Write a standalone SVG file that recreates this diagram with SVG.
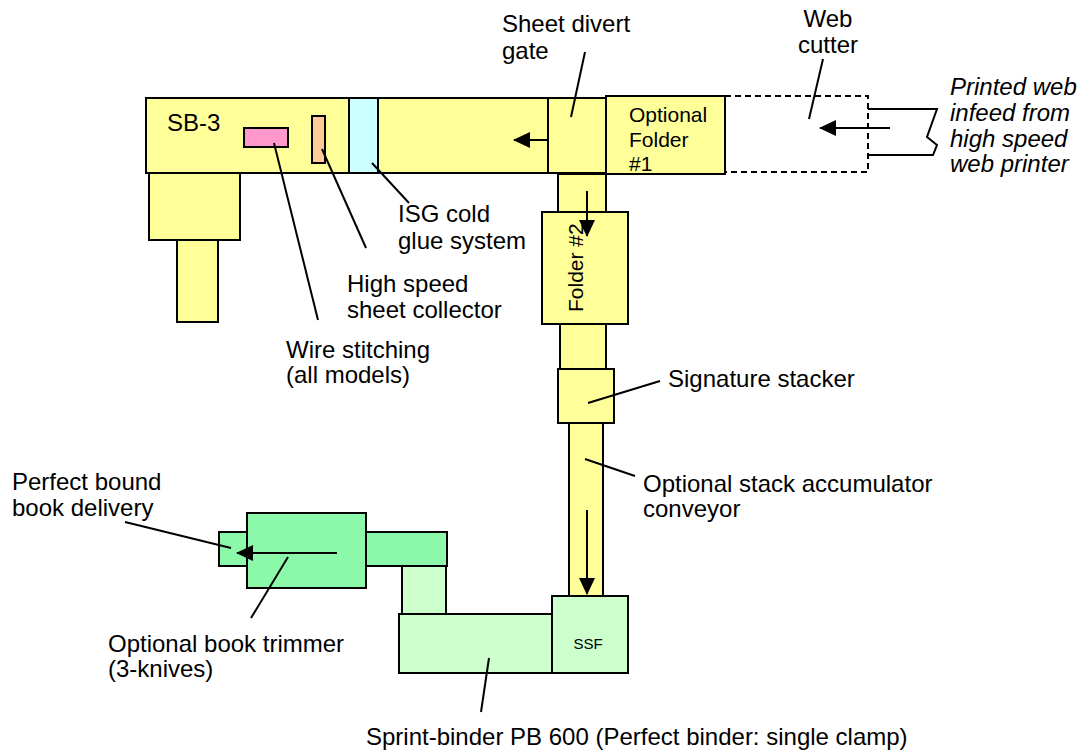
<svg xmlns="http://www.w3.org/2000/svg" width="1090" height="751" viewBox="0 0 1090 751">
<style>
.box{stroke:#000;stroke-width:2}
.y{fill:#FFFF99}
.c{fill:#CCFFFF}
.pk{fill:#FF99CC}
.or{fill:#FFCC99}
.g{fill:#8CF9AA}
.lg{fill:#CCFFCC}
.ld{stroke:#000;stroke-width:2;fill:none}
.ar{stroke:#000;stroke-width:2;fill:none;marker-end:url(#ah)}
text{font-family:"Liberation Sans",Arial,sans-serif;font-size:24px;fill:#000}
.it{font-style:italic}
.sm{font-size:21px}
</style>
<defs>
<marker id="ah" markerUnits="userSpaceOnUse" markerWidth="17" markerHeight="16" refX="16" refY="8" orient="auto">
<path d="M0,0 L17,8 L0,16 z" fill="#000"/>
</marker>
</defs>
<rect width="1090" height="751" fill="#fff"/>
<g id="sb3">
<rect class="box y" x="149" y="173" width="91" height="67"/>
<rect class="box y" x="177" y="240" width="41" height="82"/>
<rect class="box y" x="146" y="98" width="460" height="75"/>
<rect class="box pk" x="244" y="128" width="44" height="19"/>
<rect class="box or" x="312" y="116" width="13" height="47"/>
<text x="167" y="131">SB-3</text>
</g>
<g id="isg">
<rect class="box c" x="349" y="98" width="29" height="75"/>
</g>
<g id="gate">
<rect class="box y" x="548" y="98" width="58" height="75"/>
</g>
<g id="folder1">
<rect class="box y" x="606" y="96" width="119" height="78"/>
<text class="sm" x="629" y="122">Optional</text>
<text class="sm" x="629" y="147">Folder</text>
<text class="sm" x="629" y="171">#1</text>
</g>
<g id="webcutter">
<rect x="725" y="96" width="143" height="76" fill="none" stroke="#000" stroke-width="2" stroke-dasharray="6,4"/>
</g>
<g id="infeed">
<polyline class="ld" points="868,109 937,109 927,137 937,145 933,155 868,155"/>
</g>
<g id="folder2">
<rect class="box y" x="558" y="174" width="48" height="38"/>
<rect class="box y" x="560" y="324" width="46" height="45"/>
<rect class="box y" x="542" y="212" width="86" height="112"/>
<text class="sm" transform="translate(583,312) rotate(-90)">Folder #2</text>
</g>
<g id="stacker">
<rect class="box y" x="558" y="369" width="56" height="54"/>
</g>
<g id="accumulator">
<rect class="box y" x="569" y="423" width="34" height="173"/>
</g>
<g id="ssf">
<rect class="box lg" x="552" y="596" width="76" height="77"/>
<text x="588" y="649" text-anchor="middle" style="font-size:15px">SSF</text>
</g>
<g id="binder">
<rect class="box lg" x="402" y="566" width="44" height="48"/>
<rect class="box lg" x="399" y="614" width="153" height="59"/>
</g>
<g id="trimmer">
<rect class="box g" x="365" y="532" width="82" height="34"/>
<rect class="box g" x="219" y="532" width="28" height="34"/>
<rect class="box g" x="247" y="513" width="119" height="75"/>
</g>
<g id="connectors">
<line class="ar" x1="548" y1="140" x2="514" y2="140"/>
<line class="ar" x1="890" y1="128" x2="820" y2="128"/>
<line class="ar" x1="587" y1="191" x2="587" y2="236"/>
<line class="ar" x1="587" y1="510" x2="587" y2="594"/>
<line class="ar" x1="337" y1="553" x2="237" y2="553"/>
<line class="ld" x1="585" y1="52" x2="571" y2="117"/>
<line class="ld" x1="823" y1="59" x2="809" y2="119"/>
<line class="ld" x1="274" y1="143" x2="318" y2="320"/>
<line class="ld" x1="322" y1="149" x2="366" y2="248"/>
<line class="ld" x1="372" y1="163" x2="409" y2="203"/>
<line class="ld" x1="588" y1="403" x2="660" y2="381"/>
<line class="ld" x1="585" y1="459" x2="635" y2="476"/>
<line class="ld" x1="125" y1="522" x2="231" y2="548"/>
<line class="ld" x1="288" y1="557" x2="251" y2="618"/>
<line class="ld" x1="489" y1="658" x2="481" y2="712"/>
</g>
<g id="labels">
<text x="502" y="32">Sheet divert</text>
<text x="502" y="59">gate</text>
<text x="828" y="27" text-anchor="middle">Web</text>
<text x="828" y="53" text-anchor="middle">cutter</text>
<text class="it" x="950" y="95">Printed web</text>
<text class="it" x="950" y="121">infeed from</text>
<text class="it" x="950" y="147">high speed</text>
<text class="it" x="950" y="172">web printer</text>
<text x="398" y="222">ISG cold</text>
<text x="398" y="249">glue system</text>
<text x="347" y="292">High speed</text>
<text x="347" y="318">sheet collector</text>
<text x="286" y="358">Wire stitching</text>
<text x="286" y="383">(all models)</text>
<text x="668" y="387">Signature stacker</text>
<text x="643" y="492">Optional stack accumulator</text>
<text x="643" y="517">conveyor</text>
<text x="12" y="490">Perfect bound</text>
<text x="12" y="516">book delivery</text>
<text x="108" y="652">Optional book trimmer</text>
<text x="108" y="677">(3-knives)</text>
<text x="366" y="745">Sprint-binder PB 600 (Perfect binder: single clamp)</text>
</g>
</svg>
